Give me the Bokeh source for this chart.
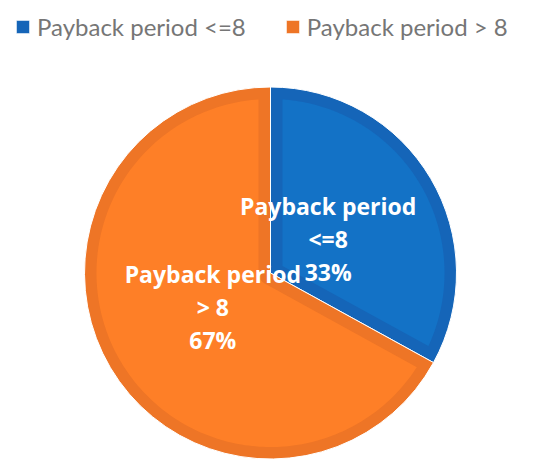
import numpy as np
from bokeh.plotting import figure
from bokeh.models import Legend, LegendItem, ColumnDataSource
from bokeh.core.properties import value
from bokeh.embed import file_html
from bokeh.resources import INLINE

categories = ["Payback period <=8", "Payback period > 8"]
label_lines = [["Payback period", "<=8"], ["Payback period", "> 8"]]
shares = [33, 67]
fill_colors = ["#1372C6", "#FE7F27"]
edge_colors = ["#1565B8", "#EE7526"]

W, H = 548, 468
CX, CY, R = 270.0, H - 272.5, 186.0
D = 12.0  # inner border width

p = figure(width=W, height=H, x_range=(0, W), y_range=(0, H),
           output_backend="svg", toolbar_location=None, min_border=0)
p.axis.visible = False
p.grid.visible = False
p.outline_line_color = None
p.background_fill_color = "white"

vals = np.array(shares, dtype=float)
spans = vals / vals.sum() * 2 * np.pi
ends_cum = np.cumsum(spans)
starts = np.pi / 2 - (ends_cum - spans)   # clockwise from top
ends = np.pi / 2 - ends_cum

src = ColumnDataSource(dict(start=starts, end=ends, color=edge_colors,
                            fill=fill_colors, cat=categories))
outer = p.wedge(x=CX, y=CY, radius=R, start_angle="start", end_angle="end",
                direction="clock", fill_color="color", line_color="white",
                line_width=1, source=src)


def inset_polygon(a0, span, cx, cy, r, d):
    a1 = a0 - span
    delta = np.arcsin(d / (r - d))
    arc = np.linspace(a0 - delta, a1 + delta, 200)
    xs = list(cx + (r - d) * np.cos(arc))
    ys = list(cy + (r - d) * np.sin(arc))
    if span < np.pi:
        bis = a0 - span / 2
        k = d / np.sin(span / 2)
        xs.append(cx + k * np.cos(bis))
        ys.append(cy + k * np.sin(bis))
    else:
        small = np.linspace(a1 + np.pi / 2, a1 + np.pi / 2 + (span - np.pi), 60)
        xs += list(cx + d * np.cos(small))
        ys += list(cy + d * np.sin(small))
    return xs, ys


pxs, pys = [], []
for a0, sp in zip(starts, spans):
    xs, ys = inset_polygon(a0, sp, CX, CY, R, D)
    pxs.append(xs)
    pys.append(ys)
p.patches(pxs, pys, fill_color=fill_colors, line_color=None)

# data labels
LR = 67.0
mids = starts - spans / 2
FS = 23
LH = 33
for i in range(len(shares)):
    lx = CX + LR * np.cos(mids[i])
    ly = CY + LR * np.sin(mids[i])
    lines = label_lines[i] + [f"{shares[i]}%"]
    n = len(lines)
    offs = [(k - (n - 1) / 2) * LH for k in range(n)]
    p.text(x=[lx] * n, y=[ly] * n, text=lines, y_offset=offs,
           text_align="center", text_baseline="middle",
           text_color="white", text_font=value("Open Sans"),
           text_font_style="bold", text_font_size=f"{FS}px")

items = [LegendItem(label=categories[i], renderers=[outer], index=i)
         for i in range(len(categories))]
legend = Legend(items=items, orientation="horizontal", location=(14, H - 41),
                glyph_width=17, glyph_height=17, label_standoff=6,
                spacing=38, padding=0, margin=0,
                border_line_alpha=0, background_fill_alpha=0,
                label_text_font="Lato", label_text_font_size="24px",
                label_text_color="#767676", label_height=24)
p.add_layout(legend, "center")

open("out.html", "w").write(file_html(p, INLINE))
